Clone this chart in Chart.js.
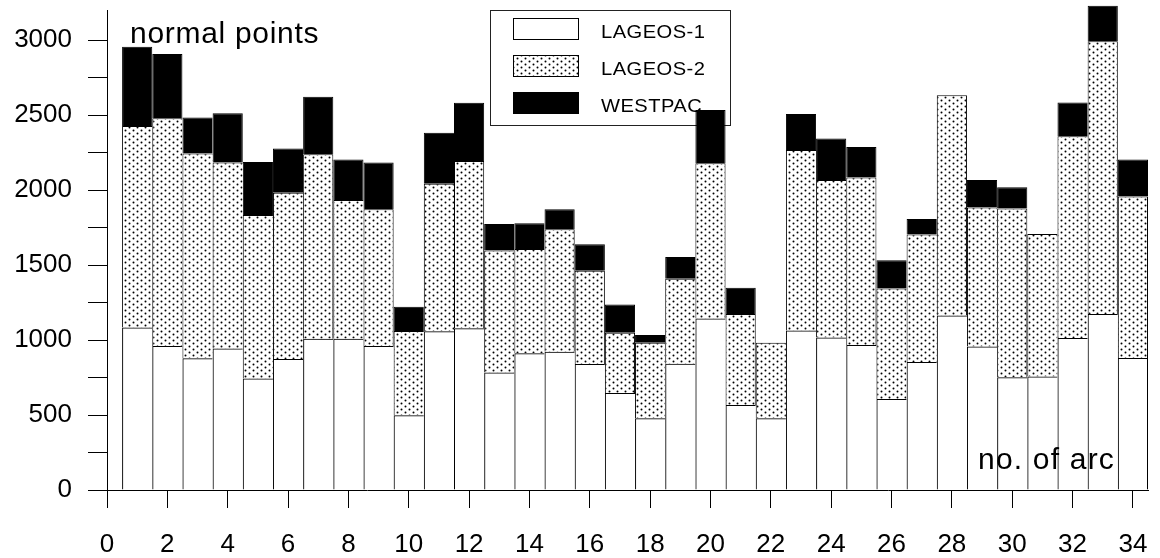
<!DOCTYPE html>
<html>
<head>
<meta charset="utf-8">
<title>Normal points per arc</title>
<script src="https://cdn.jsdelivr.net/npm/chart.js@4.4.1/dist/chart.umd.min.js"></script>
<style>
  html, body { margin: 0; padding: 0; background: #ffffff; }
  #wrap { width: 1160px; height: 558px; }
</style>
</head>
<body>
<div id="wrap"><canvas id="chart" width="1160" height="558"></canvas></div>
<script>
// Arc numbers (x positions of the stacked bars)
const arcs = [1, 2, 3, 4, 5, 6, 7, 8, 9, 10, 11, 12, 13, 14, 15, 16, 17,
              18, 19, 20, 21, 22, 23, 24, 25, 26, 27, 28, 29, 30, 31, 32, 33, 34];

// Normal points contributed by each satellite / network in every arc
const lageos1 = [1084, 960, 878, 944, 744, 873, 1009, 1009, 960, 498, 1058, 1078, 784, 911, 922, 840, 647,
                 478, 842, 1144, 567, 478, 1064, 1016, 967, 607, 853, 1164, 956, 751, 756, 1013, 1173, 880];
const lageos2 = [1343, 1518, 1366, 1240, 1089, 1109, 1229, 924, 911, 562, 984, 1115, 812, 696, 816, 622, 402,
                 504, 567, 1034, 606, 504, 1203, 1051, 1117, 737, 851, 1467, 928, 1126, 950, 1345, 1818, 1076];
const westpac = [528, 429, 240, 327, 354, 294, 384, 271, 313, 162, 340, 389, 177, 171, 133, 176, 187,
                 51, 144, 355, 176, 0, 240, 277, 203, 187, 102, 0, 183, 141, 0, 226, 238, 248];

const seriesNames = ['LAGEOS-1', 'LAGEOS-2', 'WESTPAC'];

// Axis ticks
const xTickValues = [0, 2, 4, 6, 8, 10, 12, 14, 16, 18, 20, 22, 24, 26, 28, 30, 32, 34];
const yTickMarks = [0, 250, 500, 750, 1000, 1250, 1500, 1750, 2000, 2250, 2500, 2750, 3000];
const yTickLabels = [0, 500, 1000, 1500, 2000, 2500, 3000];

const FONT = "'Liberation Sans', Arial, Helvetica, sans-serif";

// Dotted fill used for the LAGEOS-2 segments
function makeDotPattern() {
  const tile = document.createElement('canvas');
  tile.width = 8;
  tile.height = 6;
  const t = tile.getContext('2d');
  t.fillStyle = '#ffffff';
  t.fillRect(0, 0, 8, 6);
  t.fillStyle = '#000000';
  t.beginPath(); t.arc(1.5, 1.5, 1.0, 0, Math.PI * 2); t.fill();
  t.beginPath(); t.arc(5.5, 4.5, 1.0, 0, Math.PI * 2); t.fill();
  return document.getElementById('chart').getContext('2d').createPattern(tile, 'repeat');
}
const dotPattern = makeDotPattern();

// Stack totals, used to decide where a bar needs its own right edge
const totals = arcs.map((_, i) => lageos1[i] + lageos2[i] + westpac[i]);
const segmentTops = [
  lageos1,
  lageos1.map((v, i) => v + lageos2[i]),
  totals
];

function edgeWidths(ctx) {
  const i = ctx.dataIndex;
  const top = segmentTops[ctx.datasetIndex][i];
  const last = i === arcs.length - 1;
  const right = (last || top > totals[i + 1]) ? 1 : 0;
  return { left: 1, top: 1, right: right, bottom: 0 };
}

function series(values) {
  return arcs.map((a, i) => ({ x: a, y: values[i] }));
}

const common = {
  borderColor: '#000000',
  borderWidth: edgeWidths,
  borderSkipped: false,
  inflateAmount: 0,
  barPercentage: 1,
  categoryPercentage: 1,
  clip: false
};

function setFont(ctx, size) {
  ctx.font = size + 'px ' + FONT;
}
function spaced(ctx, px) {
  if ('letterSpacing' in ctx) ctx.letterSpacing = px + 'px';
}

// Free text and legend box: drawn underneath the bars
const overlayText = {
  id: 'overlayText',
  beforeDatasetsDraw(chart) {
    const ctx = chart.ctx;
    ctx.save();
    ctx.fillStyle = '#000000';
    ctx.textAlign = 'left';
    ctx.textBaseline = 'alphabetic';

    setFont(ctx, 30);
    spaced(ctx, 0.7);
    ctx.fillText('normal points', 130, 42.5);
    spaced(ctx, 1.2);
    ctx.fillText('no. of arc', 978, 468.5);

    // legend
    ctx.lineWidth = 1;
    ctx.strokeStyle = '#222222';
    ctx.fillStyle = '#ffffff';
    ctx.fillRect(490.5, 10.5, 240, 115);
    ctx.strokeRect(490.5, 10.5, 240, 115);

    const fills = ['#ffffff', dotPattern, '#000000'];
    const swatchTops = [18.5, 55.5, 92.5];
    const baselines = [37.5, 74.5, 111.5];
    chart.data.datasets.forEach((ds, k) => {
      ctx.fillStyle = fills[k];
      ctx.fillRect(513.5, swatchTops[k], 65, 21);
      ctx.strokeStyle = '#000000';
      ctx.strokeRect(513.5, swatchTops[k], 65, 21);
      // legend labels use a slightly widened face
      ctx.save();
      ctx.translate(601, baselines[k]);
      ctx.scale(1.15, 1);
      setFont(ctx, 17.5);
      spaced(ctx, 0.4);
      ctx.fillStyle = '#000000';
      ctx.fillText(ds.label, 0, 0);
      ctx.restore();
    });
    ctx.restore();
  }
};

new Chart(document.getElementById('chart'), {
  type: 'bar',
  data: {
    datasets: [
      Object.assign({ label: seriesNames[0], data: series(lageos1), backgroundColor: 'rgba(255,255,255,0)' }, common),
      Object.assign({ label: seriesNames[1], data: series(lageos2), backgroundColor: dotPattern }, common),
      Object.assign({ label: seriesNames[2], data: series(westpac), backgroundColor: '#000000' }, common)
    ]
  },
  plugins: [overlayText],
  options: {
    responsive: false,
    animation: false,
    devicePixelRatio: 1,
    layout: { padding: { left: 0, top: 10, right: 12, bottom: 0 } },
    plugins: {
      legend: { display: false },
      tooltip: { enabled: false },
      title: { display: false }
    },
    scales: {
      x: {
        type: 'linear',
        min: 0,
        max: 34.5,
        stacked: true,
        offset: false,
        grid: {
          display: true,
          drawOnChartArea: false,
          drawTicks: true,
          tickLength: 18,
          tickColor: '#000000',
          lineWidth: 1,
          offset: false
        },
        border: { display: true, color: '#000000', width: 1 },
        ticks: {
          color: '#000000',
          font: { size: 26, family: FONT },
          padding: 21,
          maxRotation: 0,
          autoSkip: false,
          includeBounds: false
        },
        afterBuildTicks(scale) {
          scale.ticks = xTickValues.map(v => ({ value: v }));
        },
        afterFit(scale) {
          scale.height = 68;
          scale.paddingLeft = 0;
          scale.paddingRight = 0;
        }
      },
      y: {
        type: 'linear',
        min: 0,
        max: 3200,
        stacked: true,
        grid: {
          display: true,
          drawOnChartArea: false,
          drawTicks: true,
          tickLength: 19,
          tickColor: '#000000',
          lineWidth: 1
        },
        border: { display: true, color: '#000000', width: 1 },
        ticks: {
          color: '#000000',
          font: { size: 26, family: FONT },
          padding: 16,
          includeBounds: false,
          callback: (value) => yTickLabels.includes(value) ? String(value) : ''
        },
        afterBuildTicks(scale) {
          scale.ticks = yTickMarks.map(v => ({ value: v }));
        },
        afterFit(scale) {
          scale.width = 107;
          scale.paddingTop = 0;
          scale.paddingBottom = 0;
        }
      }
    }
  }
});
</script>
</body>
</html>
